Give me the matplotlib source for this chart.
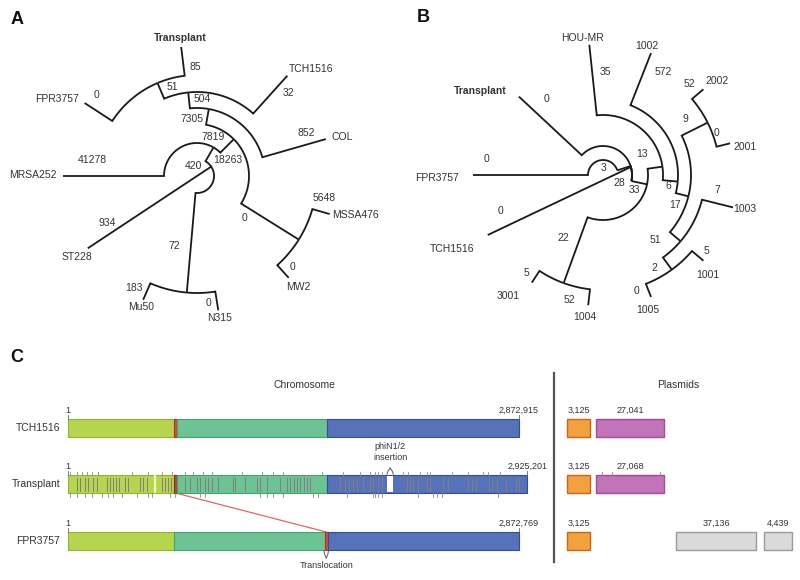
import numpy as np
import matplotlib.pyplot as plt
from matplotlib.patches import Rectangle

plt.rcParams['font.family'] = ['Liberation Sans', 'DejaVu Sans']

TXT = '#333333'
LINE = '#1a1a1a'
FS = 7.5

# ---------------- data: tree A ----------------
a_edges = [('R', 'M'), ('R', 'P'), ('M', 'N4'), ('M', 'MRSA252'),
           ('P', 'ST228'), ('P', 'CC5'), ('N4', 'N3'), ('N4', 'CC1'),
           ('N3', 'N2'), ('N3', 'COL'), ('N2', 'N1'), ('N2', 'TCH1516'),
           ('N1', 'Transplant'), ('N1', 'FPR3757'), ('CC1', 'MSSA476'),
           ('CC1', 'MW2'), ('CC5', 'Mu50'), ('CC5', 'N315')]
a_branch = ['18263', '420', '7819', '41278', '934', '72', '7305', '0',
            '504', '852', '51', '32', '85', '0', '5648', '0', '183', '0']
a_leaves = ['Transplant', 'FPR3757', 'TCH1516', 'COL', 'MSSA476', 'MW2',
            'N315', 'Mu50', 'ST228', 'MRSA252']

# ---------------- data: tree B ----------------
b_edges = [('R', 'N28'), ('R', 'N13'), ('R', 'N22'), ('N28', 'Transplant'),
           ('N28', 'TCH1516'), ('N28', 'N3x'), ('N3x', 'N3'), ('N3', 'FPR3757'),
           ('N13', 'HOU-MR'), ('N13', 'N6'), ('N6', '1002'), ('N6', 'N17'),
           ('N17', 'N9'), ('N17', 'N51'), ('N9', '2002'), ('N9', '2001'),
           ('N51', '1003'), ('N51', 'N2'), ('N2', '1001'), ('N2', '1005'),
           ('N22', '3001'), ('N22', '1004')]
b_branch = ['33', '13', '22', '0', '0', '28', '3', '0', '35', '6', '572', '17',
            '9', '51', '52', '0', '7', '2', '5', '0', '5', '52']
b_leaves = ['Transplant', 'TCH1516', 'FPR3757', 'HOU-MR', '1002', '2002',
            '2001', '1003', '1001', '1005', '3001', '1004']

# ---------------- data: panel C ----------------
chrom_names = ['TCH1516', 'Transplant', 'FPR3757']
chrom_len = [2872915, 2925201, 2872769]
chrom_blocks = [
    [(1, 675000, 'block1'), (675000, 695000, 'trans'),
     (695000, 1650000, 'block2'), (1650000, 2872915, 'block3')],
    [(1, 675000, 'block1'), (675000, 695000, 'trans_t'),
     (695000, 1650000, 'block2'), (1650000, 2925201, 'block3')],
    [(1, 675000, 'block1'), (675000, 1635000, 'block2'),
     (1635000, 1655000, 'trans'), (1655000, 2872769, 'block3')],
]
phi_insert = (2032000, 2072000)
translocation = (685000, 1645000)
transplant_snps = [57, 76, 108, 127, 159, 185, 248, 268, 287, 306, 325, 363, 382,
                   459, 478, 503, 599, 618, 637, 656, 745, 777, 822, 841, 873, 892,
                   917, 956, 1051, 1064, 1128, 1204, 1223, 1268, 1350, 1395, 1414,
                   1440, 1459, 1478, 1503, 1522, 1542, 1733, 1765, 1790, 1815, 1841,
                   1879, 1924, 1943, 1975, 2000, 2160, 2179, 2198, 2230, 2287, 2306,
                   2389, 2421, 2548, 2574, 2600, 2683, 2702, 2734, 2791, 2854, 2873]
transplant_light = [554]
ticks_above = [13, 57, 89, 121, 153, 191, 408, 510, 599, 663, 745, 796, 860, 917,
               1108, 1236, 1306, 1370, 1618, 1752, 1860, 1924, 1956, 1975, 2000,
               2134, 2166, 2242, 2287, 2306, 2446, 2548, 2644, 2676, 2752]
ticks_below = [13, 57, 108, 153, 217, 255, 287, 344, 440, 510, 535, 650, 682, 841,
               873, 1223, 1268, 1306, 1370, 1561, 1593, 1777, 1943, 1956, 1975,
               2000, 2230, 2325, 2351, 2383, 2740]
plasmid_sizes = [[3125, 27041], [3125, 27068], [3125, 37136, 4439]]
plasmid_kind = [['pA', 'pB'], ['pA', 'pB'], ['pA', 'pC', 'pD']]
plasmid_ticks = [2300, 6500, 25500]   # Transplant second plasmid

# ---------------- layout ----------------
a_center = (197, 176)
a_geom = {'R': (17, 30), 'P': (17, 30), 'M': (33, 60), 'N4': (52, 45),
          'N3': (68, 80), 'N2': (84, 96), 'N1': (101, 113), 'CC1': (120, -32),
          'CC5': (117, -95), 'Transplant': (130, 97), 'FPR3757': (134, 147),
          'TCH1516': (135, 48), 'COL': (134, 16), 'MSSA476': (138, -16),
          'MW2': (137, -48), 'Mu50': (135, -113.5), 'N315': (136, -81),
          'ST228': (131, 213.5), 'MRSA252': (134, 180)}
a_attach = {'ST228': 33.5}
a_branch_xy = [(228, 160), (193, 166), (213, 137), (92, 160), (107, 223),
               (174, 246), (192, 119), (245, 218), (202, 99), (306, 133),
               (172, 87), (288, 93), (195, 67), (97, 95), (324, 198),
               (293, 267), (134, 288), (208, 303)]
a_leaf_xy = [(180, 38), (57, 99), (311, 69), (342, 137), (355, 215), (298, 287),
             (220, 318), (141, 307), (77, 257), (33, 175)]

b_center = (603, 175)
b_geom = {'R': (45, -12.5), 'N28': (29, -12), 'N13': (60, 8), 'N22': (115, -110),
          'N3x': (15, 18), 'N3': (15, 18), 'Transplant': (115, 137),
          'TCH1516': (130, 207.5), 'FPR3757': (130, 180), 'HOU-MR': (131, 96),
          'N6': (75, -5), '1002': (131, 68.5), 'N17': (88, -14),
          'N9': (117, 26.6), 'N51': (102, -40.5), '2002': (132, 40.5),
          '2001': (131, 14), '1003': (134, -14), 'N2': (117, -54),
          '1001': (132, -40.5), '1005': (131, -68.5), '3001': (129, -123.5),
          '1004': (131, -96.5)}
b_attach = {'TCH1516': 16}
b_branch_xy = [(634, 190), (642, 154), (563, 238), (547, 99), (500, 211),
               (619, 183), (604, 168), (487, 159), (605, 72), (668, 186),
               (663, 72), (675, 205), (685, 119), (655, 240), (689, 84),
               (717, 133), (717, 190), (654, 268), (706, 251), (637, 291),
               (526, 273), (569, 300)]
b_leaf_xy = [(480, 91), (452, 249), (437, 178), (583, 38), (647, 46), (717, 81),
             (745, 147), (745, 209), (708, 275), (648, 310), (508, 296), (585, 317)]

row_y = [428, 484, 541]
bar_h = 18
block_style = {'block1': ('#b6d44e', '#93b337'), 'block2': ('#6dc393', '#3fa56a'),
               'block3': ('#5672b9', '#2f4f9e'), 'trans': ('#db4a3f', '#b33228'),
               'trans_t': ('#b54a3c', '#8a2a20')}
plasmid_style = {'pA': ('#f3a13c', '#c8661c'), 'pB': ('#c274b9', '#a24b99'),
                 'pC': ('#dadada', '#9a9a9a'), 'pD': ('#dadada', '#9a9a9a')}
plasmid_x = [[567, 596], [567, 596], [567, 676, 764]]


def polar_xy(c, r, th):
    t = np.radians(th)
    return c[0] + r * np.cos(t), c[1] - r * np.sin(t)


def draw_tree(ax, center, edges, geom, attach):
    for parent, child in edges:
        rp, tp = geom[parent]
        rc, tc = geom[child]
        a = attach.get(child, tc)
        th = np.linspace(tp, a, 80)
        x, y = polar_xy(center, rp, th)
        x1, y1 = polar_xy(center, rc, tc)
        ax.plot(np.r_[x, x1], np.r_[y, y1], color=LINE, lw=1.3,
                solid_capstyle='butt', solid_joinstyle='miter')


fig = plt.figure(figsize=(8, 5.8), dpi=100)

# chromosome axes in base pairs
axc = fig.add_axes([68 / 800, 1 - 575 / 580, 451 / 800, 205 / 580])
axc.set_xlim(0, chrom_len[0])
axc.set_ylim(575, 370)
axc.axis('off')

ax = fig.add_axes([0, 0, 1, 1])
ax.set_xlim(0, 800)
ax.set_ylim(580, 0)
ax.axis('off')

# trees
draw_tree(ax, a_center, a_edges, a_geom, a_attach)
draw_tree(ax, b_center, b_edges, b_geom, b_attach)
for lab, (x, y) in zip(a_branch, a_branch_xy):
    ax.text(x, y, lab, fontsize=FS, color=TXT, ha='center', va='center')
for lab, (x, y) in zip(b_branch, b_branch_xy):
    ax.text(x, y, lab, fontsize=FS, color=TXT, ha='center', va='center')
for lab, (x, y) in zip(a_leaves, a_leaf_xy):
    ax.text(x, y, lab, fontsize=FS, color=TXT, ha='center', va='center',
            fontweight='bold' if lab == 'Transplant' else 'normal')
for lab, (x, y) in zip(b_leaves, b_leaf_xy):
    ax.text(x, y, lab, fontsize=FS, color=TXT, ha='center', va='center',
            fontweight='bold' if lab == 'Transplant' else 'normal')

for lab, (x, y) in zip(['A', 'B', 'C'], [(17, 19), (423, 18), (17, 357)]):
    ax.text(x, y, lab, fontsize=13, fontweight='bold', color='#111111',
            ha='center', va='center')

# panel C: chromosomes
ax.text(305, 385, 'Chromosome', fontsize=FS, color=TXT, ha='center', va='center')
ax.text(678, 385, 'Plasmids', fontsize=FS, color=TXT, ha='center', va='center')
ax.plot([554, 554], [373, 562], color='#555555', lw=1.6)

for i, name in enumerate(chrom_names):
    yc = row_y[i]
    top = yc - bar_h / 2
    ax.text(60, yc, name, fontsize=FS, color=TXT, ha='right', va='center')
    for s, e, blk in chrom_blocks[i]:
        fc, ec = block_style[blk]
        axc.add_patch(Rectangle((s, top), e - s, bar_h, facecolor=fc, edgecolor=ec,
                                lw=0.8, clip_on=False, zorder=2))
    axc.plot([0, 0], [top - 4, top], color='#666666', lw=0.6, clip_on=False)
    axc.plot([chrom_len[i]] * 2, [top - 4, top], color='#666666', lw=0.6, clip_on=False)
    axc.text(0, top - 8.5, '1', fontsize=6.5, color=TXT, ha='center', va='center')
    axc.text(chrom_len[i], top - 8.5, f'{chrom_len[i]:,}', fontsize=6.5, color=TXT,
             ha='center', va='center')

# Transplant details
yc = row_y[1]
top, bot = yc - bar_h / 2, yc + bar_h / 2
for p in transplant_snps:
    axc.plot([p * 1000] * 2, [top + 2.5, bot - 2.5], color='#7f7f7f', lw=0.7,
             clip_on=False, zorder=3)
for p in transplant_light:
    axc.plot([p * 1000] * 2, [top + 1, bot - 1], color='#f4f8c0', lw=1.6,
             clip_on=False, zorder=3)
for p in ticks_above:
    axc.plot([p * 1000] * 2, [top - 3.5, top], color='#8a8a8a', lw=0.6,
             clip_on=False, zorder=3)
for p in ticks_below:
    axc.plot([p * 1000] * 2, [bot, bot + 3.5], color='#8a8a8a', lw=0.6,
             clip_on=False, zorder=3)
axc.add_patch(Rectangle((phi_insert[0], top + 0.6), phi_insert[1] - phi_insert[0],
                        bar_h - 1.2, facecolor='white', edgecolor='none',
                        clip_on=False, zorder=4))
mid = (phi_insert[0] + phi_insert[1]) / 2
for side in (phi_insert[0], phi_insert[1]):
    axc.plot([side, side + (mid - side) * 0.35, mid], [top - 1, top - 4, top - 7],
             color='#555555', lw=0.7, clip_on=False)
axc.text(mid, top - 23, 'phiN1/2\ninsertion', fontsize=6.5, color=TXT,
         ha='center', va='center', linespacing=1.15)

# translocation link
axc.plot([translocation[0], translocation[1]], [bot, row_y[2] - bar_h / 2],
         color='#e06666', lw=0.9, clip_on=False, zorder=1)
fbot = row_y[2] + bar_h / 2
tmid = translocation[1]
for side in (tmid - 14000, tmid + 14000):
    axc.plot([side, side + (tmid - side) * 0.35, tmid], [fbot + 1, fbot + 5, fbot + 8],
             color='#555555', lw=0.7, clip_on=False)
axc.text(tmid, fbot + 16, 'Translocation', fontsize=6.5, color=TXT,
         ha='center', va='center')

# plasmids (box width on a square-root scale of size)
for i in range(len(plasmid_sizes)):
    yc = row_y[i]
    top = yc - bar_h / 2
    for size, kind, x0 in zip(plasmid_sizes[i], plasmid_kind[i], plasmid_x[i]):
        w = 0.415 * np.sqrt(size)
        fc, ec = plasmid_style[kind]
        ax.add_patch(Rectangle((x0, top), w, bar_h, facecolor=fc, edgecolor=ec, lw=1.0))
        ax.text(x0 + w / 2, top - 8.5, f'{size:,}', fontsize=6.5, color=TXT,
                ha='center', va='center')
        if i == 1 and kind == 'pB':
            for t in plasmid_ticks:
                xt = x0 + w * t / size
                ax.plot([xt, xt], [top - 3.5, top], color='#8a8a8a', lw=0.6)

fig.savefig('out.png', dpi=100)
